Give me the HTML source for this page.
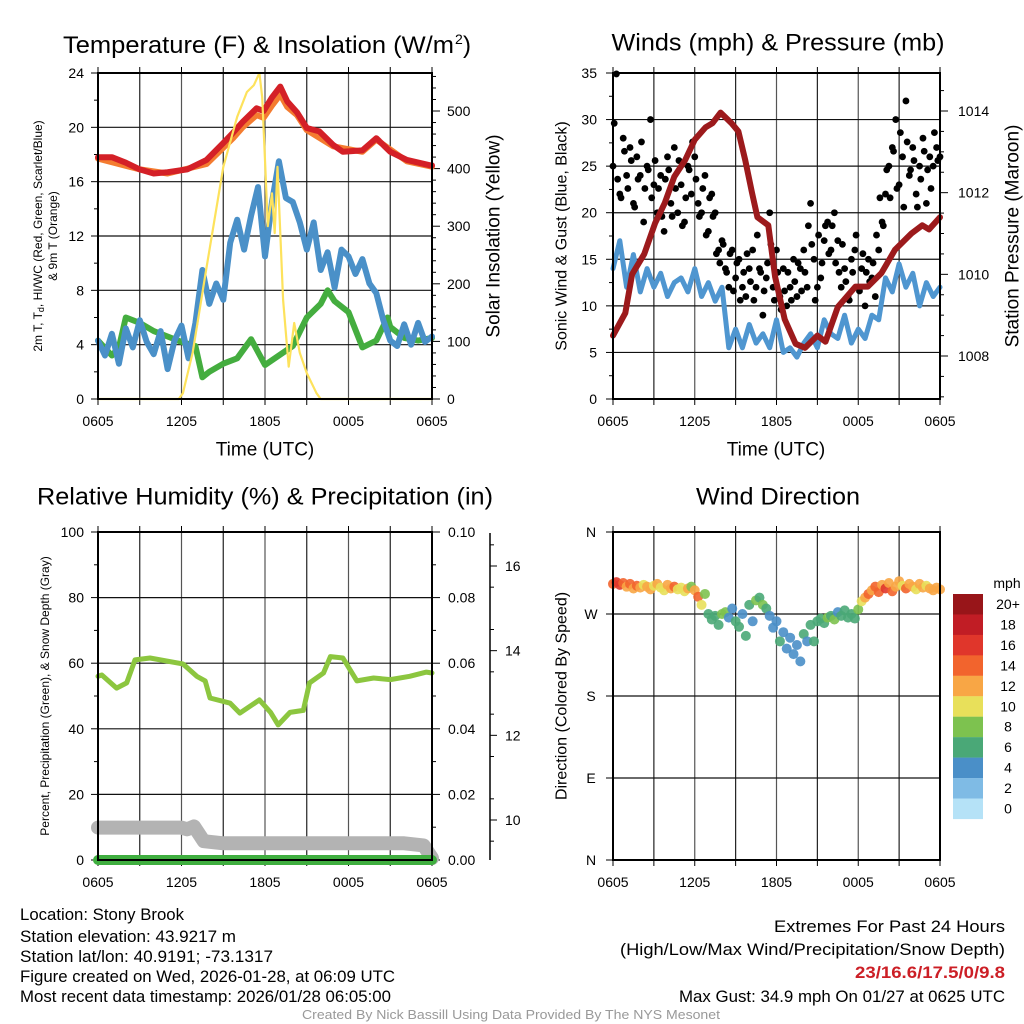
<!DOCTYPE html>
<html><head><meta charset="utf-8"><title>Mesonet Station Chart</title>
<style>
html,body{margin:0;padding:0;background:#fff;width:1024px;height:1024px;overflow:hidden}
svg{position:absolute;left:0;top:0;font-family:"Liberation Sans",Arial,sans-serif}
</style></head>
<body>
<svg id="chart" width="1024" height="1024" viewBox="0 0 1024 1024" xmlns="http://www.w3.org/2000/svg"></svg>
<script>
// ---------- DATA ----------
const xTickLabels = ["0605","1205","1805","0005","0605"];
// Panel 1 (Temperature)
const tempTicks = [0,4,8,12,16,20,24];
const solarTicks = [0,100,200,300,400,500];
const redTimes = [0,1,2,3,4,5,6.4,7.8,9,9.7,10.4,11.4,11.9,12.5,13.1,13.6,14.3,15,15.9,16.9,17.6,19,20,21,22.2,23.9,24];
const redVals  = [17.8,17.8,17.4,16.9,16.6,16.7,16.9,17.6,18.85,19.6,20.4,21.4,21.2,22.2,23.0,21.9,21.1,19.95,19.7,18.7,18.2,18.3,19.2,18.2,17.6,17.2,17.2];
const orangeTimes = [0,3,5,7.8,9,9.7,10.4,11.4,11.9,12.5,13.1,13.6,14.3,15,16.9,19,20,22.2,24];
const orangeVals  = [17.7,16.9,16.6,17.3,18.5,19.2,20.0,20.9,20.7,21.6,22.4,21.5,20.9,19.8,18.6,18.2,19.1,17.5,17.1];
const blueTTimes = [0,0.5,1,1.5,2,2.5,3,3.5,4,4.5,5,5.5,6,6.5,7,7.5,8,8.5,9,9.5,10,10.5,11,11.5,12,12.5,13,13.5,14,14.5,15,15.5,16,16.5,17,17.5,18,18.5,19,19.5,20,20.5,21,21.5,22,22.5,23,23.5,24];
const blueTVals  = [4.3,3.2,4.8,2.6,5.2,3.8,5.8,4.2,3.3,5.0,2.2,4.3,5.4,3.0,5.6,9.5,7.0,8.5,7.3,11.5,13.2,11.0,13.5,15.6,10.5,14.5,17.5,14.8,14.5,13.0,11.0,13.0,9.5,10.8,8.2,11.0,10.5,9.2,10.3,8.5,7.8,5.8,4.3,3.9,5.5,4.0,5.6,4.2,4.6];
const greenTimes = [0,1,1.5,2,3,4,5,6,7,7.5,8,9,10,11,12,13,14,15,16,16.5,17,18,19,20,20.8,21,22,23,24];
const greenVals  = [4.3,3.2,3.8,6.0,5.6,5.0,4.6,4.2,3.9,1.6,2.0,2.6,3.0,4.4,2.5,3.2,3.9,6.0,7.0,8.0,7.2,6.4,3.8,4.3,6.0,5.3,4.5,4.3,4.5];
const solarTimes = [0,5.8,6.1,6.8,7.8,9,10,10.7,11.2,11.6,11.8,12,12.2,12.5,12.7,12.9,13.3,13.7,14.1,14.5,15,15.7,16,24];
const solarVals  = [0,0,10,80,229,403,490,533,545,566,524,415,300,357,288,403,172,56,132,80,45,10,0,0];
// Panel 2 (Winds)
const windTicks = [0,5,10,15,20,25,30,35];
const presTicks = [1008,1010,1012,1014];
const presTimes = [0,0.9,1.4,2.3,3.1,3.8,4.5,5.3,6,6.8,7.3,7.9,8.7,9.2,9.7,10.2,10.6,11.4,11.9,12.6,13.4,14.1,15,15.6,16.5,17.8,18.7,19.7,20.7,21.9,22.7,23.2,24];
const presVals  = [1008.5,1009.05,1010.0,1010.5,1011.26,1011.75,1012.39,1012.8,1013.3,1013.6,1013.7,1013.96,1013.7,1013.5,1012.8,1012.0,1011.4,1011.2,1009.94,1008.9,1008.3,1008.2,1008.5,1008.35,1009.2,1009.7,1009.7,1010.03,1010.6,1011.0,1011.2,1011.1,1011.4];
const windTimes = blueTTimes;
const windVals  = [14,17,12,15.5,11.5,14,12,13.5,11,12.5,13,11.5,14,11,12.5,10.5,12,5.5,7.5,5.5,8,6,7,5.5,8.5,5,5.5,4.5,6,7,5.5,8.5,7,6.5,9,6,7.5,6.5,9,8.5,13,11.5,14.5,12,13.5,10,12.5,11,12];
const gustA = [25,34.9,22,28,24,27,21,26,24,19,25,30,23,20,24,18,26,21,27,20,23,19,25,22,26,21,20,24,18,22,20,16,17,14,12,16,13,15,12,11,14,16,12,14,9,13,20,12,16,11,14,10,12,15,11,14,16,12,21,15,12,13,17,19,16,20,17,12,14,11,15,16,12,14,10,15,13,11,16,19,22,25,27,30,23,26,32,24,27,22,25,28,21,26,25,27,26];
const gustB = [29,23,21,26,22,25,20,23,27,22,24,21,25,22,19,23,24,19,22,25,18,21,24,27,23,19,22,17,21,19,15,14,16,13,15,11,14,10,13,15,12,10,17,13,11,14,16,10,13,9,11,13,10,12,14,11,13,18,16,10,17,14,18,15,18,14,13,16,12,10,13,17,11,15,13,12,14,17,21,18,24,21,26,22,28,20,27,24,25,20,23,26,24,22,28,25];
// Panel 3 (RH)
const rhTicks = [0,20,40,60,80,100];
const precipTicks = ["0.00","0.02","0.04","0.06","0.08","0.10"];
const snowTicks = [10,12,14,16];
const rhTimes = [0,0.27,1.34,2.06,2.66,3.74,6.1,7.1,7.7,8.05,9.5,10.2,11.6,12.4,12.95,13.8,14.75,15.2,16.2,16.7,17.6,18.6,19.8,21,22.4,23.6,24];
const rhVals  = [56,56.4,52.4,54,61,61.6,59.8,56,54.6,49.4,47.8,44.8,48.8,45,41.2,45,45.6,54,57,62,61.6,54.6,55.5,55,56,57.3,57];
const snowTimes = [0,6,6.4,6.9,7.6,9,22,23.4,24];
const snowVals  = [9.82,9.82,9.78,9.85,9.5,9.45,9.45,9.4,9.1];
const precipTimes = [0,24];
const precipVals = [0,0];
// Panel 4 (Wind direction)
const dirTickLabels = ["N","E","S","W","N"];
const dirTimes = [];
for (let i = 0; i <= 96; i++) dirTimes.push(i * 0.25);
const dirVals = [303,305,302,304,300,303,298,301,299,302,300,297,301,303,299,296,302,298,300,297,299,295,298,300,296,289,280,292,270,264,268,258,270,272,266,276,262,256,270,246,280,262,285,288,280,276,268,255,262,240,250,232,244,226,236,218,248,240,258,240,262,265,260,266,268,264,272,268,274,266,270,265,275,284,288,292,296,300,294,302,298,304,295,300,306,301,298,303,300,297,303,299,301,298,296,299,297];
const dirSpeeds = [14,16,17,15,13,14,12,14,13,11,12,13,10,12,11,10,13,12,14,10,11,10,12,9,13,14,11,9,7,6,7,6,9,8,5,5,6,6,5,6,7,5,9,7,8,6,4,4,5,6,4,5,4,4,4,4,7,4,6,6,7,6,6,8,7,9,5,6,6,6,6,6,8,10,13,14,12,14,15,13,16,12,14,13,12,11,14,12,13,11,12,12,11,12,13,12,12];
const speedBinLabels = ["20+","18","16","14","12","10","8","6","4","2","0"];
const speedBinColors = ["#981519","#c11d25","#e0362b","#f2642d","#f8a645","#e8e05a","#7dc24f","#4aa877","#4a8fc8","#7fbbe5","#b5e2f7"];

// ---------- HELPERS ----------
const svg = document.getElementById('chart');
const NS = 'http://www.w3.org/2000/svg';
function mk(tag, attrs, name, parent) {
  const el = document.createElementNS(NS, tag);
  for (const k in attrs) el.setAttribute(k, attrs[k]);
  
  
  (parent || svg).appendChild(el);
  return el;
}
function txt(x, y, s, size, name, opts) {
  opts = opts || {};
  const el = mk('text', {x: x, y: y, 'font-size': size, fill: opts.fill || '#000',
    'text-anchor': opts.anchor || 'middle', 'dominant-baseline': 'central',
    'font-weight': opts.weight || 'normal'}, name);
  if (opts.rot) el.setAttribute('transform', 'rotate(' + opts.rot + ' ' + x + ' ' + y + ')');
  if (opts.len) { el.setAttribute('textLength', opts.len); el.setAttribute('lengthAdjust', 'spacingAndGlyphs'); }
  el.textContent = s;
  return el;
}
function ln(x1, y1, x2, y2, c, w, name) {
  return mk('line', {x1: x1, y1: y1, x2: x2, y2: y2, stroke: c, 'stroke-width': w}, name);
}
function lin(d0, d1, r0, r1) { return v => r0 + (v - d0) * (r1 - r0) / (d1 - d0); }
function poly(times, vals, sx, sy, c, w, name, op) {
  const pts = times.map((t, i) => sx(t).toFixed(1) + ',' + sy(vals[i]).toFixed(1)).join(' ');
  return mk('polyline', {points: pts, fill: 'none', stroke: c, 'stroke-width': w,
    'stroke-linejoin': 'round', 'stroke-linecap': 'round', opacity: op || 1}, name);
}
function frame(P, name) {
  for (let h = 3; h < 24; h += 3) {
    ln(P.sx(h), P.y0, P.sx(h), P.y1, (h % 6 === 0) ? '#555' : '#222', 1.2, name + '-vgrid');
  }
  for (let h = 0; h <= 24; h += 3) {
    ln(P.sx(h), P.y1, P.sx(h), P.y1 + 6, '#000', 1, name + '-xtick');
    ln(P.sx(h), P.y0, P.sx(h), P.y0 - 6, '#000', 1, name + '-xtick-top');
  }
  xTickLabels.forEach((s, i) => txt(P.sx(i * 6), P.y1 + 22, s, 14, name + '-x-tick-label'));
}
function border(P, name) {
  mk('rect', {x: P.x0, y: P.y0, width: P.x1 - P.x0, height: P.y1 - P.y0, fill: 'none', stroke: '#000', 'stroke-width': 2}, name + '-border');
}

// ---------- PANEL 1 ----------
(function () {
  const P = {x0: 98, x1: 432, y0: 73, y1: 399};
  P.sx = lin(0, 24, P.x0, P.x1);
  const sy = lin(0, 24, P.y1, P.y0);
  const sy2 = lin(0, 566, P.y1, P.y0);
  frame(P, 'temp-panel');
  tempTicks.forEach(v => {
    if (v > 0 && v < 24) ln(P.x0, sy(v), P.x1, sy(v), '#111', 1.2, 'temp-hgrid');
    ln(P.x0 - 7, sy(v), P.x0, sy(v), '#000', 1, 'temp-ytick');
    txt(P.x0 - 14, sy(v), String(v), 14, 'temp-y-tick-label', {anchor: 'end'});
  });
  for (let v = 2; v < 24; v += 4) ln(P.x0 - 4, sy(v), P.x0, sy(v), '#000', 1, 'temp-ytick-minor');
  solarTicks.forEach(v => {
    ln(P.x1, sy2(v), P.x1 + 8, sy2(v), '#000', 1, 'solar-ytick');
    txt(P.x1 + 15, sy2(v), String(v), 14, 'solar-y-tick-label', {anchor: 'start'});
  });
  for (let v = 20; v < 566; v += 20) if (v % 100) ln(P.x1, sy2(v), P.x1 + 4, sy2(v), '#000', 1, 'solar-ytick-minor');
  poly(greenTimes, greenVals, P.sx, sy, '#44ad3f', 6, 'dewpoint-line');
  poly(blueTTimes, blueTVals, P.sx, sy, '#4a90c8', 6, 'windchill-line');
  poly(orangeTimes, orangeVals, P.sx, sy, '#f47c30', 6, 'temp-9m-line');
  poly(redTimes, redVals, P.sx, sy, '#d42027', 6, 'temp-2m-line');
  poly(solarTimes, solarVals, P.sx, sy2, '#fde25c', 2.2, 'solar-line');
  border(P, 'temp-panel');
  const t = mk('text', {x: 63, y: 53, 'font-size': 24, 'text-anchor': 'start', textLength: 391, lengthAdjust: 'spacingAndGlyphs'}, 'temp-title');
  t.textContent = 'Temperature (F) & Insolation (W/m';
  const s = mk('text', {x: 455, y: 44, 'font-size': 14, 'text-anchor': 'start'}, 'temp-title-superscript');
  s.textContent = '2';
  const p = mk('text', {x: 463, y: 53, 'font-size': 24, 'text-anchor': 'start'}, 'temp-title-paren');
  p.textContent = ')';
  txt(265, 450, 'Time (UTC)', 19, 'temp-x-axis-title');
  const l1 = mk('text', {x: 0, y: 0, 'font-size': 12, 'text-anchor': 'middle', 'dominant-baseline': 'central', transform: 'translate(38 236) rotate(-90)'}, 'temp-y-axis-title-line1');
  l1.innerHTML = '2m T, T<tspan font-size="9" dy="3">d</tspan><tspan dy="-3">, HI/WC (Red, Green, Scarlet/Blue)</tspan>';
  txt(53, 236, '& 9m T (Orange)', 12, 'temp-y-axis-title-line2', {rot: -90});
  txt(494, 236, 'Solar Insolation (Yellow)', 19, 'solar-y-axis-title', {rot: -90});
})();

// ---------- PANEL 2 ----------
(function () {
  const P = {x0: 613, x1: 940, y0: 73, y1: 399};
  P.sx = lin(0, 24, P.x0, P.x1);
  const sy = lin(0, 35, P.y1, P.y0);
  const sy2 = lin(1008, 1014, 356, 111);
  frame(P, 'wind-panel');
  windTicks.forEach(v => {
    if (v > 0 && v < 35) ln(P.x0, sy(v), P.x1, sy(v), '#111', 1.2, 'wind-hgrid');
    ln(P.x0 - 7, sy(v), P.x0, sy(v), '#000', 1, 'wind-ytick');
    txt(P.x0 - 16, sy(v), String(v), 14, 'wind-y-tick-label', {anchor: 'end'});
  });
  for (let v = 2.5; v < 35; v += 5) ln(P.x0 - 4, sy(v), P.x0, sy(v), '#000', 1, 'wind-ytick-minor');
  presTicks.forEach(v => {
    ln(P.x1, sy2(v), P.x1 + 8, sy2(v), '#000', 1, 'pres-ytick');
    txt(P.x1 + 18, sy2(v), String(v), 14, 'pres-y-tick-label', {anchor: 'start'});
  });
  for (let v = 1007; v < 1015; v += 0.5) if (v % 2) ln(P.x1, sy2(v), P.x1 + 4, sy2(v), '#000', 1, 'pres-ytick-minor');
  poly(windTimes, windVals, P.sx, sy, '#4f96d0', 5, 'sonic-wind-line');
  gustA.forEach((v, i) => mk('circle', {cx: P.sx(i * 0.25), cy: sy(v), r: 3.4, fill: '#000'}, 'gust-point'));
  gustB.forEach((v, i) => mk('circle', {cx: P.sx(0.09 + i * 0.25), cy: sy(v + 0.6), r: 3.4, fill: '#000'}, 'gust-point'));
  poly(presTimes, presVals, P.sx, sy2, '#9c1a1c', 6, 'pressure-line');
  border(P, 'wind-panel');
  txt(778, 43, 'Winds (mph) & Pressure (mb)', 24, 'wind-title', {len: 333});
  txt(776, 450, 'Time (UTC)', 19, 'wind-x-axis-title');
  txt(562, 236, 'Sonic Wind & Gust (Blue, Black)', 16, 'wind-y-axis-title', {rot: -90});
  txt(1013, 236, 'Station Pressure (Maroon)', 19, 'pres-y-axis-title', {rot: -90});
})();

// ---------- PANEL 3 ----------
(function () {
  const P = {x0: 98, x1: 432, y0: 532, y1: 860};
  P.sx = lin(0, 24, P.x0, P.x1);
  const sy = lin(0, 100, P.y1, P.y0);
  const sy3 = lin(10, 16, 820, 566);
  frame(P, 'rh-panel');
  rhTicks.forEach((v, i) => {
    if (v > 0 && v < 100) ln(P.x0, sy(v), P.x1, sy(v), '#111', 1.2, 'rh-hgrid');
    ln(P.x0 - 7, sy(v), P.x0, sy(v), '#000', 1, 'rh-ytick');
    txt(P.x0 - 14, sy(v), String(v), 14, 'rh-y-tick-label', {anchor: 'end'});
    ln(P.x1, sy(v), P.x1 + 8, sy(v), '#000', 1, 'precip-ytick');
    txt(P.x1 + 16, sy(v), precipTicks[i], 14, 'precip-y-tick-label', {anchor: 'start'});
  });
  for (let v = 10; v < 100; v += 10) if (v % 20) { ln(P.x0 - 4, sy(v), P.x0, sy(v), '#000', 1, 'rh-ytick-minor'); ln(P.x1, sy(v), P.x1 + 4, sy(v), '#000', 1, 'precip-ytick-minor'); }
  ln(490, 533, 490, 860, '#000', 1.5, 'snow-axis-line');
  snowTicks.forEach(v => {
    ln(490, sy3(v), 497, sy3(v), '#000', 1, 'snow-ytick');
    txt(505, sy3(v), String(v), 14, 'snow-y-tick-label', {anchor: 'start'});
  });
  for (let v = 9.5; v < 16.8; v += 1) ln(490, sy3(v), 494, sy3(v), '#000', 1, 'snow-ytick-minor');
  poly(snowTimes, snowVals, P.sx, sy3, '#b3b3b3', 14, 'snow-depth-line');
  poly(precipTimes, precipVals, P.sx, sy, '#3fae3f', 10, 'precip-line');
  poly(rhTimes, rhVals, P.sx, sy, '#8cc63f', 5, 'rh-line');
  border(P, 'rh-panel');
  txt(265, 497, 'Relative Humidity (%) & Precipitation (in)', 24, 'rh-title', {len: 456});
  txt(45, 696, 'Percent, Precipitation (Green), & Snow Depth (Gray)', 12, 'rh-y-axis-title', {rot: -90});
})();

// ---------- PANEL 4 ----------
(function () {
  const P = {x0: 613, x1: 940, y0: 532, y1: 860};
  P.sx = lin(0, 24, P.x0, P.x1);
  const sy = lin(0, 360, P.y1, P.y0);
  frame(P, 'dir-panel');
  dirTickLabels.forEach((s, i) => {
    const v = i * 90;
    if (v > 0 && v < 360) ln(P.x0, sy(v), P.x1, sy(v), '#111', 1.2, 'dir-hgrid');
    ln(P.x0 - 7, sy(v), P.x0, sy(v), '#000', 1, 'dir-ytick');
    txt(P.x0 - 22, sy(v), s, 14, 'dir-y-tick-label', {anchor: 'middle'});
  });
  function binColor(s) {
    let idx = 10 - Math.min(10, Math.floor(s / 2));
    return speedBinColors[idx];
  }
  dirVals.forEach((d, i) => mk('circle', {cx: P.sx(dirTimes[i]), cy: sy(d), r: 5, fill: binColor(dirSpeeds[i]), opacity: 0.9}, 'wind-dir-point'));
  border(P, 'dir-panel');
  txt(778, 497, 'Wind Direction', 24, 'dir-title', {len: 164});
  txt(562, 696, 'Direction (Colored By Speed)', 16, 'dir-y-axis-title', {rot: -90});
  txt(1007, 583, 'mph', 14, 'colorbar-title');
  speedBinLabels.forEach((s, i) => {
    mk('rect', {x: 953, y: 594 + i * 20.45, width: 30, height: 20.6, fill: speedBinColors[i]}, 'colorbar-box');
    txt(1008, 604 + i * 20.45, s, 14, 'colorbar-label');
  });
})();

// ---------- FOOTER ----------
const leftLines = ["Location: Stony Brook","Station elevation: 43.9217 m","Station lat/lon: 40.9191; -73.1317","Figure created on Wed, 2026-01-28, at 06:09 UTC","Most recent data timestamp: 2026/01/28 06:05:00"];
const leftY = [915, 937, 957, 977, 997];
const leftLen = [164, 216, 253, 375, 371];
leftLines.forEach((s, i) => txt(20, leftY[i], s, 16.5, 'station-info-line', {anchor: 'start', len: leftLen[i]}));
txt(1005, 927, 'Extremes For Past 24 Hours', 16.5, 'extremes-title', {anchor: 'end', len: 231});
txt(1005, 950, '(High/Low/Max Wind/Precipitation/Snow Depth)', 16.5, 'extremes-subtitle', {anchor: 'end', len: 385});
txt(1005, 973, '23/16.6/17.5/0/9.8', 16.5, 'extremes-values', {anchor: 'end', fill: '#cc1f26', weight: 'bold', len: 150});
txt(1005, 997, 'Max Gust: 34.9 mph On 01/27 at 0625 UTC', 16.5, 'max-gust', {anchor: 'end', len: 326});
txt(511, 1015, 'Created By Nick Bassill Using Data Provided By The NYS Mesonet', 12.5, 'credit-line', {fill: '#999', len: 418});
</script>
</body></html>
